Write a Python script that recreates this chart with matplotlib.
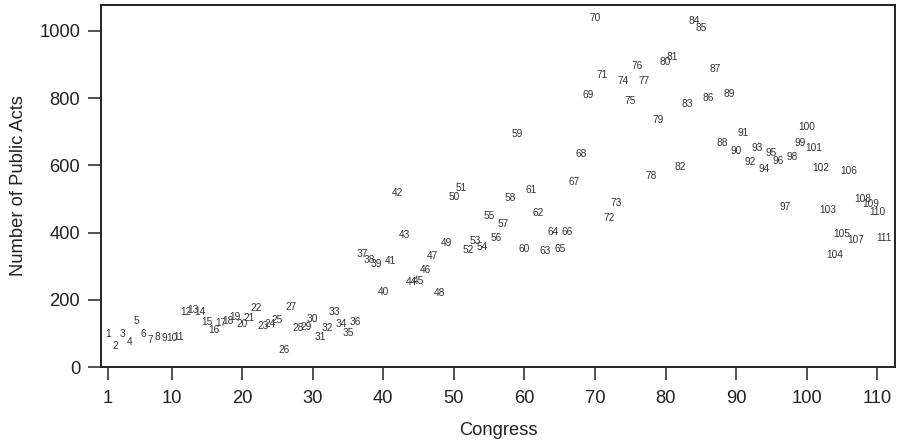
import matplotlib
matplotlib.use("Agg")
import matplotlib.pyplot as plt

congress = list(range(1, 112))
acts = [97, 63, 97, 73, 137, 97, 80, 90, 87, 87,
        90, 163, 170, 163, 135, 109, 130, 138, 150, 127,
        145, 175, 122, 128, 140, 51, 179, 117, 119, 143,
        88, 117, 164, 128, 100, 133, 335, 318, 307, 224,
        315, 517, 392, 252, 256, 289, 330, 219, 370, 507,
        532, 348, 375, 356, 449, 383, 426, 502, 693, 350,
        527, 457, 345, 402, 350, 402, 550, 633, 810, 1038,
        868, 442, 487, 851, 791, 896, 851, 568, 734, 907,
        922, 594, 783, 1030, 1010, 800, 886, 667, 812, 643,
        696, 610, 653, 588, 638, 614, 475, 624, 666, 713,
        651, 591, 467, 332, 395, 582, 378, 499, 484, 460,
        384]
xticks = [1, 10, 20, 30, 40, 50, 60, 70, 80, 90, 100, 110]
yticks = [0, 200, 400, 600, 800, 1000]

plt.rcParams['font.family'] = ['Liberation Sans', 'DejaVu Sans']
fig = plt.figure(figsize=(9.03, 4.45), dpi=100)
ax = fig.add_axes([101/903, 1-367/445, (895-101)/903, (367-5)/445])

for c, a in zip(congress, acts):
    ax.text(c, a, str(c), ha='center', va='center', fontsize=7.3, color='#333333')

ax.set_xlim(0.0, 112.5)
ax.set_ylim(0, 1077)
ax.set_xticks(xticks)
ax.set_yticks(yticks)
ax.tick_params(axis='both', direction='out', length=9.2, width=1.1, labelsize=13.2,
               colors='#222222')
ax.tick_params(axis='x', pad=7.5)
ax.tick_params(axis='y', pad=5.8)
for s in ax.spines.values():
    s.set_linewidth(1.4)
    s.set_color('#222222')
ax.set_xlabel('Congress', fontsize=13.2, color='#222222', labelpad=11)
ax.set_ylabel('Number of Public Acts', fontsize=13.2, color='#222222', labelpad=9)

fig.savefig('out.png', dpi=100)
